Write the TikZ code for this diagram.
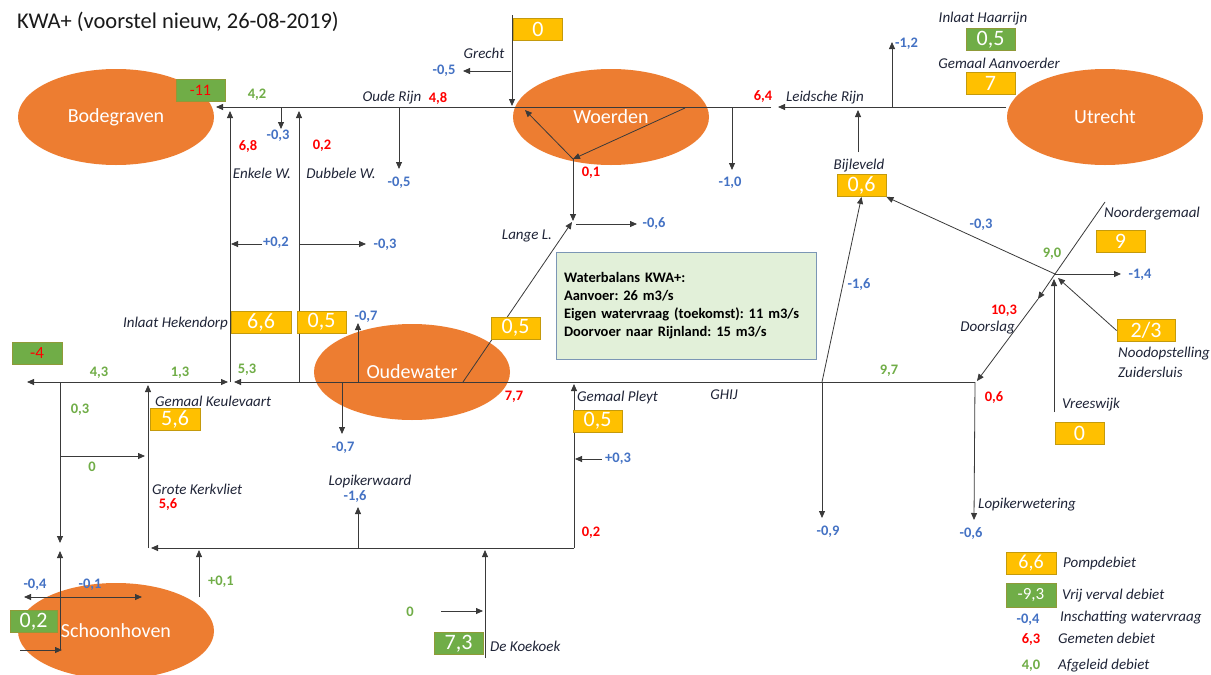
\documentclass[tikz,border=0pt]{standalone}
\usepackage{fontspec}
\setmainfont{Carlito}
\usetikzlibrary{arrows.meta,shapes.geometric}
\frenchspacing

\definecolor{cityorange}{HTML}{ED7D31}
\definecolor{pumpyellow}{HTML}{FFC000}
\definecolor{pumpedge}{HTML}{C49A0C}
\definecolor{freegreen}{HTML}{70AD47}
\definecolor{greenedge}{HTML}{8F9A38}
\definecolor{qblue}{HTML}{4472C4}
\definecolor{qred}{HTML}{FF0000}
\definecolor{qgreen}{HTML}{70AD47}
\definecolor{infofill}{HTML}{E2F0D9}
\definecolor{infoedge}{HTML}{7B96B5}
\definecolor{labelink}{HTML}{1F2437}
\definecolor{titleink}{HTML}{1A1A1A}
\definecolor{linegray}{HTML}{3A3A3A}

\tikzset{
  city/.style={ellipse, fill=cityorange, minimum width=196pt, minimum height=96pt,
    inner sep=0pt, text=white, font=\fontsize{20}{23}\selectfont},
  pumpbox/.style={rectangle, fill=pumpyellow, draw=pumpedge, line width=0.9pt,
    minimum width=49pt, minimum height=22pt, inner sep=0pt, text=white,
    font=\fontsize{22}{24}\selectfont},
  freebox/.style={pumpbox, fill=freegreen, draw=greenedge},
  place/.style={font=\fontsize{15}{17}\selectfont\itshape, text=labelink, inner sep=0pt},
  qb/.style={font=\fontsize{14.5}{16}\selectfont\bfseries, text=qblue, inner sep=0pt},
  qr/.style={font=\fontsize{14.5}{16}\selectfont\bfseries, text=qred, inner sep=0pt},
  qg/.style={font=\fontsize{14.5}{16}\selectfont\bfseries, text=qgreen, inner sep=0pt},
  flow/.style={draw=linegray, line width=0.8pt, -{Triangle[length=7pt,width=6pt]}},
  pipe/.style={draw=linegray, line width=0.8pt},
}

\begin{document}
\begin{tikzpicture}[x=1pt,y=-1pt]
\path[use as bounding box, fill=white] (0,0) rectangle (1211,675);

% ---------- towns ----------
\node[city] (bod) at (116,117) {Bodegraven};
\node[city] (woe) at (611,117) {Woerden};
\node[city] (utr) at (1105,117) {Utrecht};
\node[city] (oud) at (412,372) {Oudewater};
\node[city] (sch) at (116,631) {Schoonhoven};

\node[anchor=west, inner sep=0pt, text=titleink, font=\fontsize{22.5}{25}\selectfont]
  (title) at (17,22) {KWA+ (voorstel nieuw, 26-08-2019)};

% ---------- Oude Rijn / Leidsche Rijn ----------
\coordinate (utrOut) at (1006,107);
\coordinate (lrTip) at (778,107);
\coordinate (orEast) at (771,107);
\coordinate (bodIn) at (216,107);
\draw[flow] (utrOut) -- (lrTip);
\draw[flow] (orEast) -- (bodIn);

% Enkele and Dubbele Wetering
\coordinate (enkS) at (230,382); \coordinate (enkN) at (230,111);
\coordinate (dubS) at (299,382); \coordinate (dubN) at (299,111);
\draw[flow] (enkS) -- (enkN);
\draw[flow] (dubS) -- (dubN);

% demands along Oude Rijn
\coordinate (d1a) at (281,107); \coordinate (d1b) at (281,129);
\draw[flow] (d1a) -- (d1b);
\coordinate (d2a) at (399,107); \coordinate (d2b) at (399,169);
\draw[flow] (d2a) -- (d2b);
\coordinate (d3a) at (732,107); \coordinate (d3b) at (732,170);
\draw[flow] (d3a) -- (d3b);

% Grecht
\coordinate (grN) at (512,15); \coordinate (grS) at (512,106);
\draw[flow] (grN) -- (grS);
\coordinate (grTap) at (511,71); \coordinate (grOut) at (463,71);
\draw[flow] (grTap) -- (grOut);

% inside Woerden
\coordinate (wE) at (685,108);
\coordinate (wJ) at (573,159);
\coordinate (wNW) at (525,110);
\coordinate (wS) at (573,221);
\draw[flow] (wE) -- (wJ);
\draw[flow] (wJ) -- (wNW);
\draw[flow] (wJ) -- (wS);

% Lange Linschoten
\coordinate (oudJ) at (463,382);
\coordinate (llN) at (572,222);
\draw[flow] (oudJ) -- (llN);
\coordinate (llTap) at (576,224); \coordinate (llOut) at (637,224);
\draw[flow] (llTap) -- (llOut);

% Bijleveld / Haarrijn
\coordinate (bijUp) at (858,152); \coordinate (bijTip) at (858,110);
\draw[flow] (bijUp) -- (bijTip);
\coordinate (h12a) at (892,107); \coordinate (h12b) at (892,42);
\draw[flow] (h12a) -- (h12b);

% cross links at Enkele / Dubbele Wetering
\coordinate (p2a) at (262,244); \coordinate (p2b) at (231,244);
\draw[flow] (p2a) -- (p2b);
\coordinate (m3a) at (299,244); \coordinate (m3b) at (366,244);
\draw[flow] (m3a) -- (m3b);

% ---------- GHIJ / Hollandse IJssel ----------
\coordinate (ghE) at (975,382);
\coordinate (ghW) at (234,382);
\coordinate (keuJ) at (146,382);
\coordinate (ghMid) at (228,382);
\coordinate (ghEnd) at (27,382);
\draw[flow] (ghE) -- (ghW);
\draw[flow] (keuJ) -- (ghMid);
\draw[flow] (keuJ) -- (ghEnd);

% Oudewater take-offs
\coordinate (o1a) at (358,382); \coordinate (o1b) at (358,323);
\draw[flow] (o1a) -- (o1b);
\coordinate (o2a) at (342,382); \coordinate (o2b) at (342,434);
\draw[flow] (o2a) -- (o2b);

% from GHIJ towards Bijleveld and down
\coordinate (ghJ) at (822,382);
\coordinate (ghDn) at (822,518);
\draw[flow] (ghJ) -- (ghDn);

% Noordergemaal / Doorslag node
\coordinate (nJ) at (1055,274);
\coordinate (ngIn) at (1105,202);
\coordinate (nOut) at (1121,274);
\coordinate (dMid) at (1038,299);
\coordinate (dEnd) at (977,381);
\coordinate (vrN) at (1054,279);
\coordinate (vrS) at (1054,412);
\coordinate (noTip) at (1058,278);
\draw[pipe] (ngIn) -- (nJ);
\draw[flow] (nJ) -- (nOut);
\draw[flow] (nJ) -- (dMid);
\draw[flow] (dMid) -- (dEnd);
\draw[flow] (vrS) -- (vrN);

% Lopikerwetering
\coordinate (lwS) at (974,520);
\draw[flow] (ghE) -- (lwS);

% ---------- southern part ----------
\coordinate (kvS) at (148,548);
\coordinate (kvN) at (148,385);
\draw[flow] (kvS) -- (kvN);
\coordinate (v03a) at (60,382); \coordinate (v03b) at (60,543);
\draw[flow] (v03a) -- (v03b);
\coordinate (z0a) at (60,456); \coordinate (z0b) at (145,456);
\draw[flow] (z0a) -- (z0b);

\coordinate (plS) at (574,548);
\coordinate (plN) at (574,384);
\coordinate (kvTip) at (151,548);
\draw[flow] (plS) -- (kvTip);
\draw[flow] (plS) -- (plN);
\coordinate (p3a) at (602,459); \coordinate (p3b) at (575,459);
\draw[flow] (p3a) -- (p3b);

\coordinate (lwaS) at (358,548); \coordinate (lwaN) at (358,507);
\draw[flow] (lwaS) -- (lwaN);
\coordinate (kkS) at (485,658); \coordinate (kkN) at (485,550);
\draw[flow] (kkS) -- (kkN);
\coordinate (k0a) at (441,611); \coordinate (k0b) at (483,611);
\draw[flow] (k0a) -- (k0b);
\coordinate (p1a) at (199,597); \coordinate (p1b) at (199,550);
\draw[flow] (p1a) -- (p1b);

% Schoonhoven
\coordinate (shS) at (60,650); \coordinate (shN) at (60,551);
\draw[flow] (shS) -- (shN);
\coordinate (shInW) at (20,650); \coordinate (shInE) at (62,650);
\draw[flow] (shInW) -- (shInE);
\coordinate (shX) at (60,597);
\coordinate (shL) at (24,597); \coordinate (shR) at (142,597);
\draw[flow] (shX) -- (shL);
\draw[flow] (shX) -- (shR);

% ---------- boxes ----------
\node[freebox, text=qred, font=\fontsize{16}{18}\selectfont] (bxBod) at (200.5,90) {-11};
\node[pumpbox] (bxGrecht) at (538,29.5) {0};
\node[freebox] (bxHaar) at (990.5,39.5) {0,5};
\node[pumpbox] (bxAanv) at (990.5,83) {7};
\node[pumpbox] (bij) at (861.5,185.5) {0,6};
\node[pumpbox] (bxNoord) at (1120.5,241) {9};
\node[pumpbox, minimum width=58pt] (nood) at (1146,330.5) {2/3};
\node[pumpbox] (bxVrees) at (1079.5,433.5) {0};
\node[pumpbox, minimum width=60pt] (bxHek) at (261,322.5) {6,6};
\node[pumpbox] (bxHek2) at (321.5,322) {0,5};
\node[freebox, minimum width=50pt, text=qred, font=\fontsize{17}{19}\selectfont] (bxMin4) at (37,353.5) {-4};
\node[pumpbox, minimum width=50pt] (bxKeul) at (175,419.5) {5,6};
\node[pumpbox] (bxLange) at (515.5,328) {0,5};
\node[pumpbox] (bxPleyt) at (597.5,421) {0,5};
\node[freebox, minimum width=47pt] (bxSch) at (33.5,621.5) {0,2};
\node[freebox] (bxKoek) at (458.5,643.5) {7,3};

% arrows into the Bijleveld and Noodopstelling boxes
\draw[flow] (ghJ) -- (bij.south);
\draw[flow] (nJ) -- (bij.south east);
\draw[flow] (nood.west) -- (noTip);

% ---------- water balance ----------
\node[rectangle, fill=infofill, draw=infoedge, line width=1pt,
  minimum width=260pt, minimum height=107pt, text width=244pt, inner sep=8pt,
  align=left, font=\fontsize{14.5}{18}\selectfont\bfseries] (info) at (686,305.5)
  {Waterbalans KWA+:\\Aanvoer: 26 m3/s\\Eigen watervraag (toekomst): 11 m3/s\\Doorvoer naar Rijnland: 15 m3/s};

% ---------- labels ----------
\node[place] (tGrecht) at (484,53) {Grecht};
\node[qb] (vGrecht) at (444,71) {-0,5};
\node[place] (tOR) at (392,98) {Oude Rijn};
\node[qr] (vOR) at (438,98) {4,8};
\node[qr] (vLR) at (763,97) {6,4};
\node[place] (tLR) at (825,98) {Leidsche Rijn};
\node[qb, anchor=west] (v12) at (895,44) {-1,2};
\node[place] (tHaar) at (983,19) {Inlaat Haarrijn};
\node[place] (tAanv) at (999,63) {Gemaal Aanvoerder};
\node[place] (tBij) at (859,166) {Bijleveld};
\node[qb] (v10) at (730,183) {-1,0};
\node[qr] (v01) at (591,173) {0,1};
\node[qb] (v05d) at (399,183) {-0,5};
\node[place] (tDub) at (341,173) {Dubbele W.};
\node[qr] (v02d) at (322,146) {0,2};
\node[qg] (v42) at (257,95) {4,2};
\node[qb] (v03t) at (278,136) {-0,3};
\node[qr] (v68) at (248,146) {6,8};
\node[place] (tEnk) at (262,173) {Enkele W.};
\node[qb] (vp02) at (276,243) {+0,2};
\node[qb] (v03m) at (385,245) {-0,3};
\node[place] (tLange) at (527,236) {Lange L.};
\node[qb] (v06t) at (654,224) {-0,6};
\node[qb] (v16b) at (859,285) {-1,6};
\node[qb] (v03r) at (981,225) {-0,3};
\node[qg] (v90) at (1052,254) {9,0};
\node[place] (tNoord) at (1152,214) {Noordergemaal};
\node[qb] (v14) at (1140,275) {-1,4};
\node[qr] (v103) at (1004,311) {10,3};
\node[place, anchor=east] (tDoor) at (1015,327.5) {Doorslag};
\node[place, anchor=west] (tNood) at (1118,354) {Noodopstelling};
\node[place, anchor=west] (tZuid) at (1118,372) {Zuidersluis};
\node[place] (tVrees) at (1091,405) {Vreeswijk};
\node[qr] (v06r) at (994,398) {0,6};
\node[place, anchor=west] (tLopw) at (978,505) {Lopikerwetering};
\node[qb] (v06b) at (971,534) {-0,6};
\node[qb] (v09) at (828,532) {-0,9};
\node[qg] (v97) at (889,371) {9,7};
\node[place] (tGHIJ) at (724,395) {GHIJ};
\node[qr] (v77) at (514,397) {7,7};
\node[place, anchor=west] (tPleyt) at (577,397) {Gemaal Pleyt};
\node[qb, anchor=west] (vp03) at (605,459) {+0,3};
\node[qr] (v02p) at (591,533) {0,2};
\node[qb] (v07u) at (366,317) {-0,7};
\node[qb] (v07d) at (343,448) {-0,7};
\node[qg] (v53) at (247,370) {5,3};
\node[qg] (v13) at (180,373) {1,3};
\node[qg] (v43) at (99,373) {4,3};
\node[place, anchor=east] (tHek) at (228,323) {Inlaat Hekendorp};
\node[place, anchor=west] (tKeul) at (155,401) {Gemaal Keulevaart};
\node[qg] (v03g) at (80,410) {0,3};
\node[qg] (v0g) at (92,467) {0};
\node[place, anchor=west] (tGK) at (152,489) {Grote Kerkvliet};
\node[qr] (v56) at (168,505) {5,6};
\node[place] (tLopwa) at (370,481) {Lopikerwaard};
\node[qb] (v16s) at (355,497) {-1,6};
\node[qg] (vp01) at (221,582) {+0,1};
\node[qg] (v0k) at (410,612) {0};
\node[place, anchor=west] (tKoek) at (490,646) {De Koekoek};
\node[qb] (v04s) at (35,585) {-0,4};
\node[qb] (v01s) at (90,585) {-0,1};

% ---------- legend ----------
\node[pumpbox, minimum width=50pt, font=\fontsize{20}{22}\selectfont] (legP) at (1031,563) {6,6};
\node[freebox, minimum width=50pt, minimum height=24pt, font=\fontsize{17}{19}\selectfont] (legV) at (1031,595) {-9,3};
\node[place, anchor=west] (legPt) at (1063,563) {Pompdebiet};
\node[place, anchor=west] (legVt) at (1062,596) {Vrij verval debiet};
\node[qb] (legB) at (1028,620) {-0,4};
\node[place, anchor=west] (legBt) at (1060,618) {Inschatting watervraag};
\node[qr] (legR) at (1031,640) {6,3};
\node[place, anchor=west] (legRt) at (1058,638) {Gemeten debiet};
\node[qg] (legG) at (1031,666) {4,0};
\node[place, anchor=west] (legGt) at (1058,666) {Afgeleid debiet};
\end{tikzpicture}
\end{document}
